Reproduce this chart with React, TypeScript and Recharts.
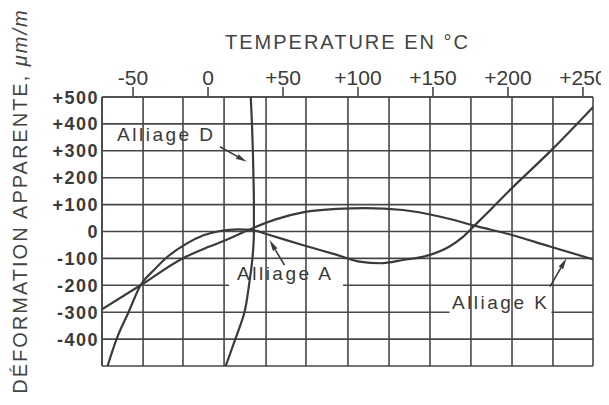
import { LineChart, Line, XAxis, YAxis, CartesianGrid, ReferenceLine, ReferenceArea } from "recharts";

const FONT = "'Liberation Sans', Arial, Helvetica, sans-serif";
const INK = "#3a3a3a";
const GRID = "#474747";

// axes
const xTicks = [-50, 0, 50, 100, 150, 200, 250];
const yTicks = [-500, -400, -300, -200, -100, 0, 100, 200, 300, 400, 500];
// vertical grid lines do not sit on the temperature ticks
const gridTemps = [-70.7, -43.3, -16.7, 10.7, 38.7, 65.3, 93.3, 120.7, 148, 175.3, 202.7, 230, 256.7];

// Alliage A
const tempsA = [-67, -61, -53, -45, -36, -27, -14, -3, 8, 20, 30, 41, 63, 86, 101, 115, 130, 148, 161, 170, 177, 185, 200, 230, 257];
const strainA = [-500, -400, -300, -200, -143, -94, -44, -14, 2, 8, 5, -13, -50, -87, -112, -118, -106, -87, -56, -20, 18, 62, 147, 308, 464];

// Alliage K
const tempsK = [-71, -45, -17, 0, 12, 28, 45, 64, 86, 105, 130, 155, 179, 202, 228, 257];
const strainK = [-290, -200, -100, -58, -32, 8, 45, 72, 84, 87, 80, 55, 20, -12, -56, -104];

// Alliage D (nearly vertical, ordered by strain)
const strainD = [-500, -400, -300, -200, -100, 0, 100, 200, 300, 400, 500];
const tempsD = [11.8, 18.2, 24.3, 27.3, 29.6, 30.6, 30.6, 30.3, 29.9, 29.3, 28.5];

const toPoints = (ts: number[], vs: number[]) => ts.map((t, i) => ({ t, v: vs[i] }));
const dataA = toPoints(tempsA, strainA);
const dataK = toPoints(tempsK, strainK);
const dataD = toPoints(tempsD, strainD);

const signed = (v: number) => (v > 0 ? `+${v}` : `${v}`);

const XTick = (props: any) => {
  const { x, y, payload } = props;
  return (
    <text x={x} y={y} textAnchor="middle" fontSize={21} fill={INK} fontFamily={FONT}>
      {signed(payload.value)}
    </text>
  );
};

const YTick = (props: any) => {
  const { x, y, payload } = props;
  if (payload.value === -500) return <g />;
  return (
    <text x={x} y={y} dy={6.5} textAnchor="end" fontSize={18} fontWeight={700} letterSpacing={1.5} fill={INK} fontFamily={FONT}>
      {signed(payload.value)}
    </text>
  );
};

const boxLabel = (text: string, dx: number, dy: number) => (props: any) => {
  const vb = props.viewBox;
  return (
    <text x={vb.x + dx} y={vb.y + dy} fontSize={19} letterSpacing={2.5} fill={INK} fontFamily={FONT}>
      {text}
    </text>
  );
};

const Arrow = (props: any) => {
  const { x1, y1, x2, y2 } = props;
  const ang = Math.atan2(y2 - y1, x2 - x1);
  const len = 11;
  const hw = 2.6;
  const bx = x2 - len * Math.cos(ang);
  const by = y2 - len * Math.sin(ang);
  const px = -Math.sin(ang) * hw;
  const py = Math.cos(ang) * hw;
  return (
    <g>
      <line x1={x1} y1={y1} x2={bx} y2={by} stroke={INK} strokeWidth={1.6} />
      <polygon points={`${x2},${y2} ${bx + px},${by + py} ${bx - px},${by - py}`} fill={INK} />
    </g>
  );
};

// annotation boxes: [t1, t2, v1, v2], text offset inside the box
const labels = [
  { text: "Alliage D", box: [-69, 9, 306, 395], dx: 12.5, dy: 15.8 },
  { text: "Alliage A", box: [14, 90, -232, -104], dx: 8, dy: 20.5 },
  { text: "Alliage K", box: [161, 229, -304, -208], dx: 2.5, dy: 21.5 },
];
const arrows = [
  { from: [8, 315], to: [25.8, 259] },
  { from: [51, -125], to: [41, -32] },
  { from: [228, -205], to: [239, -100] },
];

export default function App() {
  return (
    <div style={{ position: "relative", width: 601, height: 390, fontFamily: FONT }}>
      <div
        style={{
          position: "absolute",
          left: 94,
          top: 24,
          width: 491,
          textAlign: "center",
          fontSize: 20,
          lineHeight: "20px",
          letterSpacing: 2,
          color: "#444",
        }}
      >
        TEMPERATURE EN °C
      </div>
      <div
        style={{
          position: "absolute",
          left: 12 - 200,
          top: 193 - 10,
          width: 400,
          height: 20,
          textAlign: "center",
          fontSize: 20,
          lineHeight: "20px",
          letterSpacing: 2,
          color: "#444",
          whiteSpace: "nowrap",
          transform: "rotate(-90deg)",
          transformOrigin: "center",
        }}
      >
        DÉFORMATION APPARENTE, <span style={{ fontStyle: "italic" }}>μm/m</span>
      </div>
      <LineChart width={601} height={390} margin={{ top: 49, right: 16, bottom: 32, left: 34 }}>
        <XAxis
          dataKey="t"
          type="number"
          orientation="top"
          domain={[-70.7, 256.7]}
          allowDataOverflow
          ticks={xTicks}
          interval={0}
          height={40}
          tickSize={10}
          tickMargin={2}
          tick={<XTick />}
          tickLine={{ stroke: GRID, strokeWidth: 1.6 }}
          axisLine={{ stroke: GRID, strokeWidth: 1.6 }}
        />
        <YAxis
          type="number"
          domain={[-500, 500]}
          ticks={yTicks}
          interval={0}
          width={60}
          tickSize={0}
          tickMargin={3}
          tickLine={false}
          tick={<YTick />}
          axisLine={{ stroke: GRID, strokeWidth: 1.6 }}
        />
        <CartesianGrid vertical={false} stroke={GRID} strokeWidth={1.6} strokeOpacity={1} />
        {gridTemps.map((t) => (
          <ReferenceLine key={`g${t}`} x={t} stroke={GRID} strokeWidth={1.6} strokeOpacity={1} />
        ))}
        {labels.map((l) => (
          <ReferenceArea
            key={l.text}
            x1={l.box[0]}
            x2={l.box[1]}
            y1={l.box[2]}
            y2={l.box[3]}
            fill="#ffffff"
            fillOpacity={1}
            stroke="none"
            label={boxLabel(l.text, l.dx, l.dy)}
          />
        ))}
        <Line data={dataA} dataKey="v" type="monotone" stroke={INK} strokeWidth={2.2} dot={false} activeDot={false} isAnimationActive={false} />
        <Line data={dataK} dataKey="v" type="monotone" stroke={INK} strokeWidth={2.2} dot={false} activeDot={false} isAnimationActive={false} />
        <Line data={dataD} dataKey="v" type="monotoneY" stroke={INK} strokeWidth={2.2} dot={false} activeDot={false} isAnimationActive={false} />
        {arrows.map((a, i) => (
          <ReferenceLine
            key={`a${i}`}
            segment={[
              { x: a.from[0], y: a.from[1] },
              { x: a.to[0], y: a.to[1] },
            ]}
            shape={Arrow}
          />
        ))}
      </LineChart>
    </div>
  );
}
